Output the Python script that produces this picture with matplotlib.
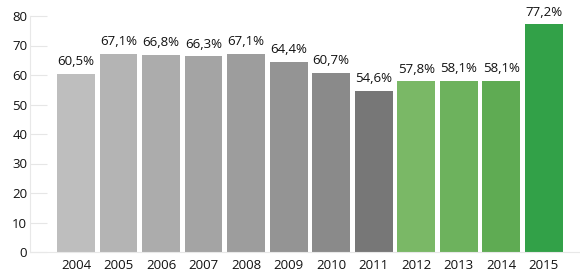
import matplotlib.pyplot as plt

years = ['2004', '2005', '2006', '2007', '2008', '2009', '2010', '2011',
         '2012', '2013', '2014', '2015']
values = [60.5, 67.1, 66.8, 66.3, 67.1, 64.4, 60.7, 54.6, 57.8, 58.1, 58.1, 77.2]
colors = ['#bebebe', '#b4b4b4', '#acacac', '#a4a4a4', '#9d9d9d', '#949494',
          '#8a8a8a', '#777777', '#7ab866', '#6db25d', '#5fab53', '#32a148']

plt.rcParams['font.family'] = ['Open Sans', 'DejaVu Sans']

fig = plt.figure(figsize=(5.8, 2.77), dpi=100)
ax = fig.add_axes([30 / 580, 1 - 252 / 277, 550 / 580, 236 / 277])

x = range(len(years))
bars = ax.bar(x, values, width=0.89, color=colors)

for b, v in zip(bars, values):
    ax.annotate(f'{v:.1f}%'.replace('.', ','), (b.get_x() + b.get_width() / 2, v),
                xytext=(0, 4), textcoords='offset points', ha='center', va='bottom',
                fontsize=9.5, color='#111111')

ax.set_xlim(-1.08, 11.85)
ax.set_ylim(0, 80)
ax.set_yticks(range(0, 81, 10))
ax.set_xticks(list(x))
ax.set_xticklabels(years)

for s in ['top', 'right']:
    ax.spines[s].set_visible(False)
ax.spines['left'].set_color('#e8e8e8')
ax.spines['bottom'].set_color('#e8e8e8')
ax.tick_params(axis='y', direction='in', length=12, color='#e6e6e6', pad=2,
               labelsize=9.5, labelcolor='#111111')
ax.tick_params(axis='x', length=0, pad=5, labelsize=9.5, labelcolor='#111111')

fig.savefig('out.png', dpi=100)
